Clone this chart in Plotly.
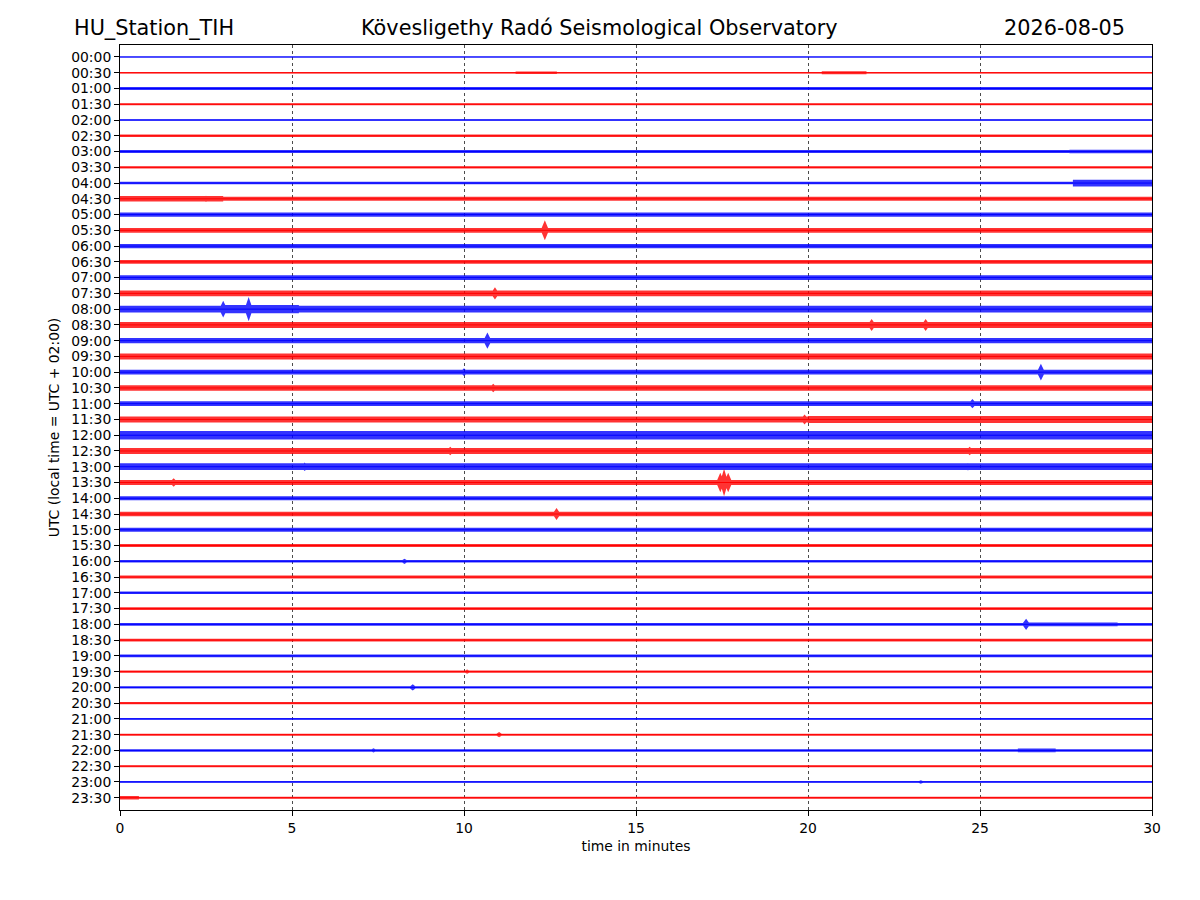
import plotly.graph_objects as go

# 30分ごとのトレース（ヘリコーダ表示）
trace_labels = ['00:00', '00:30', '01:00', '01:30', '02:00', '02:30', '03:00', '03:30',
                '04:00', '04:30', '05:00', '05:30', '06:00', '06:30', '07:00', '07:30',
                '08:00', '08:30', '09:00', '09:30', '10:00', '10:30', '11:00', '11:30',
                '12:00', '12:30', '13:00', '13:30', '14:00', '14:30', '15:00', '15:30',
                '16:00', '16:30', '17:00', '17:30', '18:00', '18:30', '19:00', '19:30',
                '20:00', '20:30', '21:00', '21:30', '22:00', '22:30', '23:00', '23:30']

# ノイズレベル（相対振幅、片振幅）
base_amp = [0.5, 0.7, 1.2, 0.8, 0.6, 1.0, 1.2, 0.9,
            1.0, 1.7, 1.7, 2.0, 1.8, 1.5, 2.0, 2.3,
            2.8, 2.5, 2.2, 2.5, 2.0, 2.3, 2.0, 2.5,
            3.5, 2.5, 2.8, 2.0, 1.6, 1.8, 1.6, 1.3,
            1.0, 1.2, 1.0, 1.1, 1.1, 1.2, 1.1, 1.0,
            1.0, 1.0, 0.7, 0.8, 1.0, 0.8, 0.7, 0.8]

# 振幅が大きい区間（行, 開始分, 終了分, 振幅）
burst_rows = [1, 1, 6, 8, 9, 16, 23, 36, 44, 47]
burst_start = [11.5, 20.4, 27.6, 27.7, 0.0, 3.0, 20.0, 26.3, 26.1, 0.0]
burst_end = [12.7, 21.7, 30.0, 30.0, 3.0, 5.2, 30.0, 29.0, 27.2, 0.55]
burst_amp = [1.1, 1.2, 1.5, 2.8, 2.3, 3.4, 2.9, 1.6, 1.5, 1.5]

# 地震イベント（行, 分, ピーク振幅）
spike_rows = [9, 11, 15, 16, 16, 17, 17, 18, 20, 20, 21, 22, 23, 25, 25,
              26, 26, 27, 27, 27, 27, 29, 32, 36, 39, 40, 43, 44, 46]
spike_times = [2.5, 12.35, 10.9, 3.0, 3.74, 21.85, 23.42, 10.68, 10.0, 26.77, 10.85, 24.78, 19.9, 9.6, 24.7,
               5.37, 24.65, 1.56, 17.45, 17.56, 17.68, 12.69, 8.27, 26.34, 10.09, 8.51, 11.02, 7.37, 23.28]
spike_amp = [2.6, 8.3, 5.0, 7.0, 10.0, 5.0, 5.0, 6.7, 3.2, 7.0, 3.5, 3.8, 4.2, 3.5, 3.5,
             3.5, 3.2, 3.5, 8.0, 11.5, 8.0, 5.0, 2.2, 4.6, 1.8, 2.6, 2.2, 1.8, 1.5]

amp_scale = 1.2 / 15.7  # 相対振幅 -> トレース間隔
spike_w = 0.12          # スパイクの半幅（分）
colors = ['#0000ff', '#ff0000']
fills = ['rgba(0,0,255,0.8)', 'rgba(255,0,0,0.8)']

fig = go.Figure()
for i, label in enumerate(trace_labels):
    a = base_amp[i] * amp_scale
    xs = [0, 30, 30, 0, 0, None]
    ys = [i - a, i - a, i + a, i + a, i - a, None]
    for r, s, e, b in zip(burst_rows, burst_start, burst_end, burst_amp):
        if r == i:
            b = b * amp_scale
            xs += [s, e, e, s, s, None]
            ys += [i - b, i - b, i + b, i + b, i - b, None]
    for r, t, p in zip(spike_rows, spike_times, spike_amp):
        if r == i:
            p = p * amp_scale
            xs += [t - spike_w, t, t + spike_w, t, t - spike_w, None]
            ys += [i, i - p, i, i + p, i, None]
    fig.add_trace(go.Scatter(x=xs, y=ys, mode='lines', fill='toself',
                             fillcolor=fills[i % 2], line=dict(width=0),
                             hoverinfo='skip', showlegend=False))
    # 基線
    fig.add_trace(go.Scatter(x=[0, 30], y=[i, i], mode='lines',
                             line=dict(color=colors[i % 2], width=1),
                             name=label, showlegend=False))

font_main = 'DejaVu Sans, Arial, sans-serif'
# ページの余白(8px)を差し引いたマージン
fig.update_layout(width=1200, height=900,
                  margin=dict(l=112, r=56, t=37, b=98),
                  plot_bgcolor='white', paper_bgcolor='white',
                  font=dict(family=font_main, size=13.9, color='black'))
fig.update_xaxes(range=[0, 30], tickvals=[0, 5, 10, 15, 20, 25, 30],
                 ticks='outside', ticklen=5, tickcolor='black',
                 showline=True, linecolor='black', linewidth=1, mirror=True,
                 showgrid=True, gridcolor='rgba(0,0,0,0.7)', gridwidth=0.5, griddash='dot',
                 zeroline=False,
                 title=dict(text='time in minutes', font=dict(size=13.9), standoff=6))
fig.update_yaxes(range=[47.78, -0.76], tickvals=list(range(len(trace_labels))),
                 ticktext=trace_labels, ticks='outside', ticklen=5, tickcolor='black',
                 showline=True, linecolor='black', linewidth=1, mirror=True,
                 showgrid=False, zeroline=False,
                 title=dict(text='UTC (local time = UTC + 02:00)', font=dict(size=13.9), standoff=8))

# タイトル（左・中央・右）
title_font = dict(family=font_main, size=20.8, color='black')
title_y = (810 - 28) / 765
fig.add_annotation(text='HU_Station_TIH',
                   x=(72 - 120) / 1032, y=title_y, xref='paper', yref='paper',
                   xanchor='left', yanchor='middle', showarrow=False, font=title_font)
fig.add_annotation(text='Kövesligethy Radó Seismological Observatory',
                   x=(599 - 120) / 1032, y=title_y, xref='paper', yref='paper',
                   xanchor='center', yanchor='middle', showarrow=False, font=title_font)
fig.add_annotation(text='2026-08-05',
                   x=(1127 - 120) / 1032, y=title_y, xref='paper', yref='paper',
                   xanchor='right', yanchor='middle', showarrow=False, font=title_font)

fig.write_html('out.html')
